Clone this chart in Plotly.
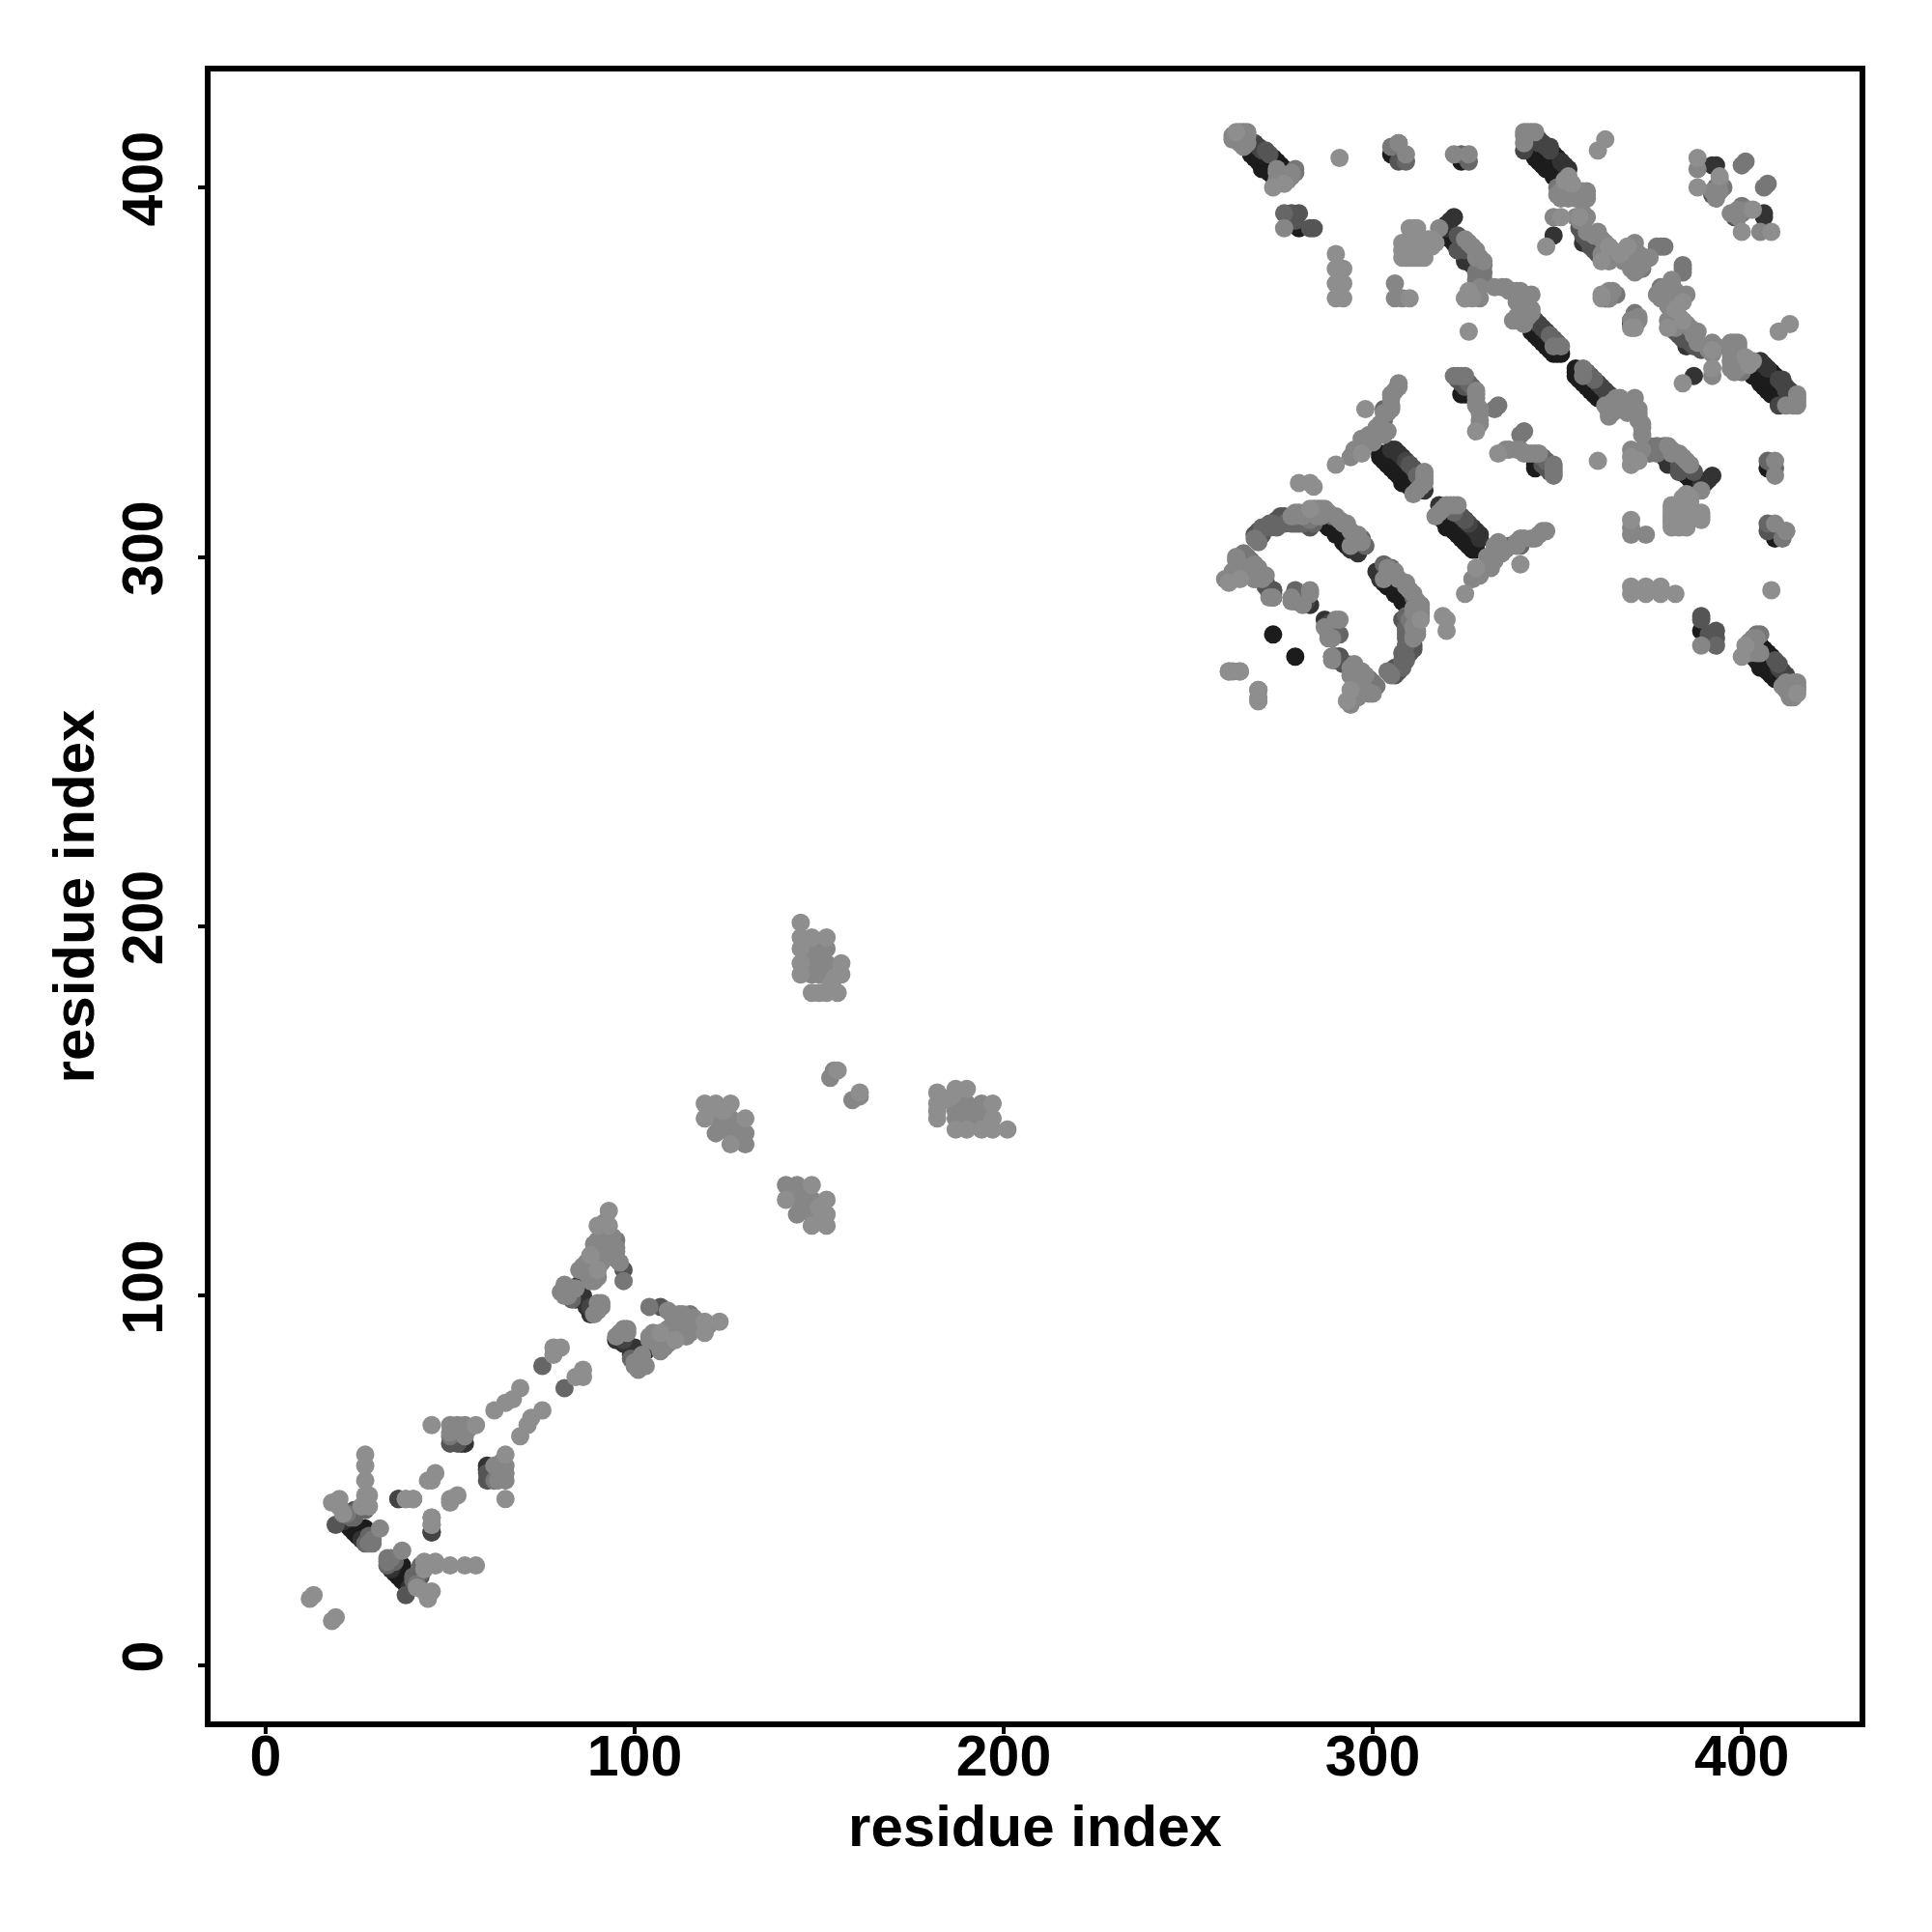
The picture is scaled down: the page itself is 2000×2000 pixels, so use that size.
import plotly.graph_objects as go

# Residue contacts on one side of the diagonal, grouped by grey level (x, y).
contacts_g1c = [(268,408),(270,405),(273,403),(273,408),(276,405),(22,38),(23,37),(24,37),(27,37),(25,35),(87,98),(86,99),
 (280,389),(305,409),(324,407),(321,386),(344,360),(346,358),(348,356),(350,355),(343,410),(345,407),(348,405),(350,408),
 (302,327),(305,324),(308,320),(289,308),(291,306),(273,279),(324,344),(326,345),(325,345),(370,364),(363,370),
 (267,409),(269,407),(271,405),(272,404),(274,407),(275,406),(343,361),(345,359),(347,357),(349,355),(351,355),
 (349,409),(342,410),(344,408),(346,406),(347,405),(349,403),(320,388),(321,387),(322,385),
 (303,326),(304,325),(306,323),(307,322),(309,320),(310,319),(311,318),(302,328),
 (287,309),(288,308),(290,306),(292,304),(293,303),(22,39),(23,38),(24,36),(25,36),(26,37),(26,35),(325,344),(326,344)]
contacts_g33 = [(322,392),(320,389),(325,380),(352,406),(357,385),(308,327),(296,302),(283,287),(393,406),
 (53,60),(54,60),(84,99),(85,103),(88,95),(26,34),(349,387),(314,318),(406,392),(321,391),(320,390),(319,389),(351,407),
 (353,405),(325,381),(326,380),(327,379),(294,302),(295,302),(296,301),(27,34),(21,39),
 (85,101),(86,100),(87,97),(88,96),(89,97),(305,329),(306,329),(307,328)]
contacts_g44 = [(269,411),(341,410),(345,412),(348,411),(344,364),(347,361),(273,290),(288,282),(36,45),(45,36),(323,383),(88,97),
 (268,412),(270,410),(345,363),(346,362),(345,413),(346,412),(347,411),(348,410),(272,290),(273,289),(309,326),(310,325)]
contacts_g55 = [(271,410),(280,393),(284,389),(283,389),(307,407),(323,383),(349,359),(359,384),(268,306),(276,310),
 (283,308),(271,292),(291,273),(293,271),(19,38),(24,42),(50,60),(52,60),(97,107),(324,347),(392,398),(272,409),(323,387),
 (324,386),(325,383),(356,389),(357,387),(358,386),(360,383),(361,382),(274,310),(275,311),(276,311),(277,310),(269,307),
 (270,306),(272,291),(273,291),(323,348),(325,346),(278,393),(277,392),(279,391),(310,325),(311,324),(312,323)]
contacts_g66 = [(309,407),(326,407),(324,409),(303,340),(303,337),(271,308),(273,309),(276,309),(279,309),(265,300),(297,305),
 (289,311),(279,290),(288,279),(291,279),(25,42),(27,42),(27,33),(393,400),(326,347),(347,326),(307,412),(83,99),(75,81),
 (348,360),(350,358),(272,308),(274,308),(278,309),(280,309),(281,309),(284,309),(296,304),(298,303),(270,308),(272,309),
 (327,346),(28,35),(23,40),(24,40),(276,393),(312,322),(313,321)]
contacts_g77 = [(279,405),(305,411),(330,379),(328,377),(328,373),(341,371),(349,357),(351,357),(350,400),(374,381),(373,378),
 (378,384),(377,384),(366,371),(279,311),(283,310),(265,299),(322,349),(325,349),(333,340),(334,341),(395,400),(400,406),
 (401,407),(29,34),(82,102),(95,115),(97,104),(50,62),(52,63),(279,404),(329,379),(329,377),(330,377),(330,375),(328,375),
 (329,375),(329,373),(269,304),(268,305),(266,300),(267,299),(265,301),(323,349),(324,349),(379,384),(28,33),(29,33),(22,41)]
contacts_g86 = [(274,405),(278,403),(264,412),(262,414),(266,415),(276,389),(307,412),(309,409),(322,409),(326,409),(318,389),
 (326,385),(327,384),(329,381),(329,373),(325,370),(329,370),(333,373),(335,373),(339,372),(343,371),(343,367),(339,364),
 (341,415),(341,412),(344,415),(353,402),(350,398),(355,399),(358,399),(358,398),(349,392),(358,392),(362,386),(371,385),
 (370,379),(370,378),(364,370),(372,365),(372,364),(306,374),(306,370),(308,370),(305,344),(307,347),(305,340),(304,334),
 (302,336),(297,332),(300,332),(295,328),(314,320),(314,322),(287,313),(291,310),(293,309),(296,306),(294,303),(263,299),
 (264,297),(269,297),(269,295),(273,289),(283,290),(278,288),(281,287),(291,283),(289,278),(289,272),(294,268),(262,269),
 (328,344),(328,341),(329,337),(388,405),(50,65),(52,65),(54,65),(50,63),(54,62),(55,64),(31,37),(81,103),(80,101),(85,107),
 (91,97),(89,104),(94,111),(87,109),(92,111),(91,112),(90,115),(92,116),(95,112),(89,107),(88,104),
 (126,144),(122,144),(122,148),(126,148),(148,190),(148,194),(152,194),(152,190),(148,187),(152,187),(130,144),(130,141),
 (153,159),(154,161),(262,413),(263,414),(264,415),(265,415),(266,414),(266,412),(265,411),(274,404),(274,402),(275,403),
 (276,403),(277,402),(278,404),(341,414),(342,415),(343,415),(351,399),(351,397),(352,398),(353,397),(355,397),(356,399),
 (357,399),(358,397),(357,397),(355,392),(356,391),(357,393),(358,388),(360,387),(361,388),(363,385),(364,384),(362,382),
 (363,381),(364,380),(365,383),(366,382),(367,381),(368,380),(370,383),(371,382),(370,380),(371,377),(372,378),(373,379),
 (375,381),(372,382),(373,380),(325,386),(328,383),(328,381),(330,380),(314,323),(314,321),(313,319),(312,318),(311,317),
 (286,313),(288,312),(290,311),(292,309),(294,307),(295,306),(297,304),(278,311),(279,312),(280,312),(281,311),(284,313),
 (285,313),(283,312),(285,311),(286,311),(263,300),(264,298),(265,297),(262,296),(263,295),(264,295),(266,297),(268,298),
 (270,294),(271,295),(268,294),(268,297),(260,294),(336,373),(337,372),(338,372),(340,372),(339,369),(340,369),(341,369),
 (342,368),(343,366),(340,365),(342,365),(341,363),(339,365),(338,364),(340,367),(328,345),(328,343),(328,342),(329,340),
 (329,339),(329,336),(306,345),(307,346),(305,343),(305,341),(304,339),(303,339),(301,335),(302,334),(303,333),(299,333),
 (300,331),(298,331),(296,329),(295,329),(294,327),(82,100),(81,100),(83,102),(84,102),(86,108),(87,106),(88,105),(89,106),
 (90,105),(89,108),(90,110),(91,109),(89,112),(89,114),(92,113),(93,115),(93,112),(94,113),(94,116),(95,113),(91,116),
 (91,118),(92,120),(95,110),(96,109),(90,98),(91,98),(90,96),(89,95),(148,192),(150,194),(150,190),(150,187),(124,146),
 (128,146),(128,142),(393,397),(392,399),(394,399),(394,402)]
contacts_g8e = [(263,415),(276,401),(273,400),(291,408),(290,382),(290,378),(292,378),(290,374),(292,374),(290,370),(292,370),
 (312,389),(310,389),(308,385),(308,381),(312,381),(314,381),(310,381),(316,386),(311,386),(317,385),
 (351,392),(356,392),(347,384),(364,384),(362,380),(369,384),(367,382),(361,410),(363,413),(362,370),(371,362),(310,370),
 (298,340),(290,325),(297,328),(280,320),(283,320),(284,319),(283,313),(261,293),(264,294),(261,269),(264,269),(269,261),
 (269,264),(388,408),(388,400),(394,403),(328,334),(326,361),(352,402),(353,403),(354,401),(325,370),(327,370),(326,372),
 (311,389),(312,388),(309,385),(310,384),(313,385),(315,386),(316,384),(308,383),(309,381),(311,381),(313,381),
 (12,18),(13,19),(18,44),(20,45),(20,43),(21,41),(27,57),(27,54),(27,50),(27,46),(28,46),(38,45),(40,45),(44,50),(46,52),
 (45,50),(45,38),(45,40),(45,65),(57,65),(62,69),(65,71),(67,72),(69,75),(78,84),(78,86),(80,86),(27,44),(26,43),(28,43),
 (93,123),(90,119),(93,119),(88,111),(90,107),(150,182),(153,184),(154,186),(120,150),(124,150),
 (119,152),(122,152),(126,152),(119,148),(126,141),(130,148),
 (145,201),(145,197),(148,197),(152,197),(145,194),(145,190),(145,187),(148,182),(152,182),(155,182),(156,190),(156,187),
 (155,161)]

shade_levels = ["#1c1c1c", "#333333", "#444444", "#555555", "#666666", "#777777", "#868686", "#8e8e8e"]
contact_groups = [contacts_g1c, contacts_g33, contacts_g44, contacts_g55, contacts_g66, contacts_g77, contacts_g86, contacts_g8e]

tick_values = [0, 100, 200, 300, 400]
axis_title = "residue index"

fig = go.Figure()
for colour, group in zip(shade_levels, contact_groups):
    xs = [p[0] for p in group] + [p[1] for p in group]
    ys = [p[1] for p in group] + [p[0] for p in group]
    fig.add_trace(go.Scatter(x=xs, y=ys, mode="markers", showlegend=False, hoverinfo="skip",
                             marker=dict(color=colour, size=19, line=dict(width=0))))

tick_font = dict(family="Liberation Sans", size=59, color="#000000", weight="bold")
title_font = dict(family="Liberation Sans", size=60, color="#000000", weight="bold")
common = dict(tickvals=tick_values, ticktext=[str(v) for v in tick_values], showgrid=False, zeroline=False,
              showline=True, mirror=True, linecolor="#000000", linewidth=5.5, ticks="outside", ticklen=7,
              tickwidth=4, tickcolor="#000000", tickfont=tick_font, automargin=False)
fig.update_xaxes(range=[-14.9, 431.9], ticklabelstandoff=-28, title=dict(text=axis_title, font=title_font, standoff=21), **common)
fig.update_yaxes(range=[-15.2, 431.4], tickangle=-90, ticklabelstandoff=14, title=dict(text=axis_title, font=title_font, standoff=0), **common)
fig.update_layout(width=2000, height=2000, plot_bgcolor="#ffffff", paper_bgcolor="#ffffff",
                  margin=dict(l=210, r=83, t=66, b=226, pad=0), showlegend=False)
fig.write_html("out.html")
